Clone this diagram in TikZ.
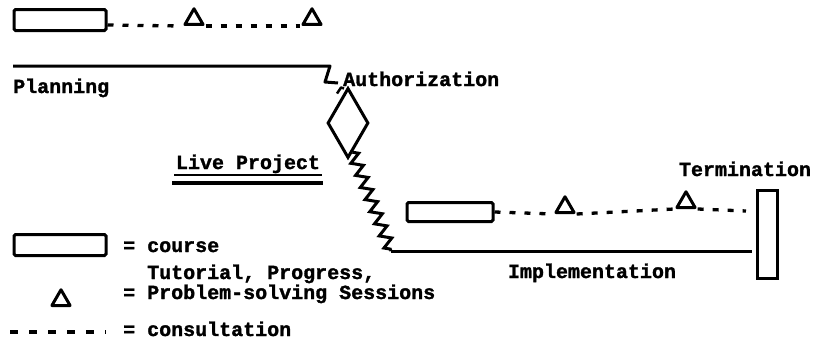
\documentclass[tikz,border=0pt]{standalone}
\usepackage{fontspec}
\setmonofont[BoldFeatures={FakeBold=1.5}]{Liberation Mono}
\usetikzlibrary{shapes.geometric,decorations.pathmorphing,calc}
\begin{document}
\begin{tikzpicture}[x=1pt,y=-1pt,
  every node/.style={font=\ttfamily\bfseries\fontsize{20}{24}\selectfont, inner sep=0pt},
  heavy/.style={line width=3pt},
  coursebox/.style={draw, heavy, rounded corners=1.5pt, minimum width=92pt, minimum height=21pt},
  session/.style={draw, line width=3pt, regular polygon, regular polygon sides=3,
    minimum size=21pt, inner sep=0pt, line join=round},
  consult/.style={line width=3.3pt, dash pattern=on 6pt off 9pt},
  lbl/.style={anchor=base west},
  zz/.style={heavy, decorate, decoration={zigzag, segment length=13pt, amplitude=5.5pt}},
]
\useasboundingbox (0,0) rectangle (815,343);

% planning phase: course followed by consultations and sessions
\node[coursebox] (c1) at (60,20) {};
\node[session, anchor=south] (s1) at (194,26) {};
\node[session, anchor=south] (s2) at (312,26) {};
\draw[consult] ($(c1.east)+(0,5)$) -- (s1.corner 2);
\draw[consult] (s1.corner 3) -- (s2.corner 2);

\coordinate (p0) at (13,66);
\coordinate (p1) at (330,66);
\draw[heavy, line join=round] (p0) -- (p1) -- ++(-5,16) -- ++(13,1);
\node[lbl] (plan) at (13,93) {Planning};

% authorization gate
\node[draw, heavy, diamond, minimum width=41pt, minimum height=70pt] (gate) at (348,123) {};
\node[lbl] (auth) at (343,86) {Authorization};
\draw[line width=2.5pt, line join=round] ($(gate.north)+(-11,7)$) -- ++(4,-6) -- ++(3,1);

% live project title
\node[anchor=base] (live) at (248,169) {Live Project};
\draw[line width=2.5pt] (174,175) -- (322,175);
\draw[line width=4.5pt] (172,183) -- (323,183);

% descent into implementation
\coordinate (z0) at ($(gate.south)!0.2!(gate.east)$);
\coordinate (i0) at (391,251);
\draw[zz] (z0) -- (i0);

\node[draw, heavy, minimum width=20pt, minimum height=88pt] (term) at (767,234) {};
\draw[heavy] (i0) -- ($(i0 -| term.west)+(-4,0)$);
\node[anchor=base] (impl) at (592,278) {Implementation};
\node[anchor=base] (termlbl) at (745,176) {Termination};

% implementation phase: course, consultations and sessions
\node[coursebox, minimum width=86pt, minimum height=19pt] (c2) at (450,212) {};
\node[session, anchor=south] (s3) at (565,214) {};
\node[session, anchor=south] (s4) at (686,209) {};
\coordinate (e4) at (746,211);
\draw[consult] (c2.east) -- (s3.corner 2);
\draw[consult] (s3.corner 3) -- (s4.corner 2);
\draw[consult] (s4.corner 3) -- (e4);

% legend
\node[coursebox] (lc) at (60,245) {};
\node[lbl] (lctext) at (123,252) {= course};
\node[lbl] (lstext1) at (147,279) {Tutorial, Progress,};
\node[session, anchor=south] (ls) at (61,307) {};
\node[lbl] (lstext2) at (123,299) {= Problem-solving Sessions};
\coordinate (ld0) at (10,332);
\coordinate (ld1) at (106,332);
\draw[line width=3.3pt, dash pattern=on 8pt off 11pt] (ld0) -- (ld1);
\node[lbl] (ldtext) at (123,336) {= consultation};
\end{tikzpicture}
\end{document}
